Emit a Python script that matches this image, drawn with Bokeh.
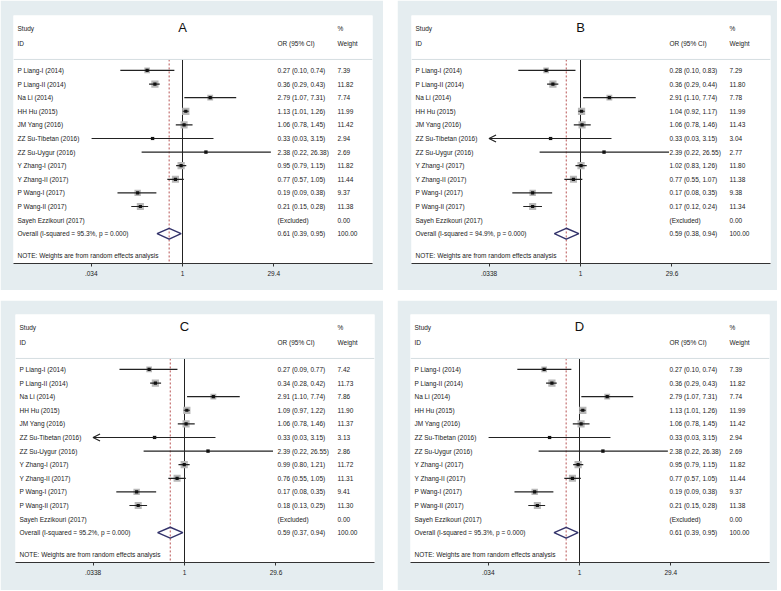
import math
from bokeh.plotting import figure
from bokeh.models import (Range1d, LinearScale, FixedTicker, CustomJSTickFormatter,
                          Span, Arrow, OpenHead, ColumnDataSource)
from bokeh.layouts import row, column
from bokeh.embed import file_html
from bokeh.resources import INLINE
from bokeh.core.properties import value

# ---------------- data ----------------
studies = ["P Liang-I (2014)", "P Liang-II (2014)", "Na Li (2014)", "HH Hu (2015)",
           "JM Yang (2016)", "ZZ Su-Tibetan (2016)", "ZZ Su-Uygur (2016)",
           "Y Zhang-I (2017)", "Y Zhang-II (2017)", "P Wang-I (2017)", "P Wang-II (2017)"]
excluded_study = "Sayeh Ezzikouri (2017)"

or_A = [0.27, 0.36, 2.79, 1.13, 1.06, 0.33, 2.38, 0.95, 0.77, 0.19, 0.21]
lo_A = [0.10, 0.29, 1.07, 1.01, 0.78, 0.0345, 0.22, 0.79, 0.57, 0.09, 0.15]
hi_A = [0.74, 0.43, 7.31, 1.26, 1.45, 3.15, 26.38, 1.15, 1.05, 0.38, 0.28]
wt_A = [7.39, 11.82, 7.74, 11.99, 11.42, 2.94, 2.69, 11.82, 11.44, 9.37, 11.38]
overall_A = [0.61, 0.39, 0.95]
i2_A = 95.3
ticks_A = [0.034, 1, 29.4]

or_B = [0.28, 0.36, 2.91, 1.04, 1.06, 0.33, 2.39, 1.02, 0.77, 0.17, 0.17]
lo_B = [0.10, 0.29, 1.10, 0.92, 0.78, 0.033, 0.22, 0.83, 0.55, 0.08, 0.12]
hi_B = [0.83, 0.44, 7.74, 1.17, 1.46, 3.15, 26.55, 1.26, 1.07, 0.35, 0.24]
wt_B = [7.29, 11.80, 7.78, 11.99, 11.43, 3.04, 2.77, 11.80, 11.38, 9.38, 11.34]
overall_B = [0.59, 0.38, 0.94]
i2_B = 94.9
ticks_B = [0.0338, 1, 29.6]

or_C = [0.27, 0.34, 2.91, 1.09, 1.06, 0.33, 2.39, 0.99, 0.76, 0.17, 0.18]
lo_C = [0.09, 0.28, 1.10, 0.97, 0.78, 0.033, 0.22, 0.80, 0.55, 0.08, 0.13]
hi_C = [0.77, 0.42, 7.74, 1.22, 1.46, 3.15, 26.55, 1.21, 1.05, 0.35, 0.25]
wt_C = [7.42, 11.73, 7.86, 11.90, 11.37, 3.13, 2.86, 11.72, 11.31, 9.41, 11.30]
overall_C = [0.59, 0.37, 0.94]
i2_C = 95.2
ticks_C = [0.0338, 1, 29.6]

or_D = [0.27, 0.36, 2.79, 1.13, 1.06, 0.33, 2.38, 0.95, 0.77, 0.19, 0.21]
lo_D = [0.10, 0.29, 1.07, 1.01, 0.78, 0.0345, 0.22, 0.79, 0.57, 0.09, 0.15]
hi_D = [0.74, 0.43, 7.31, 1.26, 1.45, 3.15, 26.38, 1.15, 1.05, 0.38, 0.28]
wt_D = [7.39, 11.82, 7.74, 11.99, 11.42, 2.94, 2.69, 11.82, 11.44, 9.37, 11.38]
overall_D = [0.61, 0.39, 0.95]
i2_D = 95.3
ticks_D = [0.034, 1, 29.4]

# ---------------- style ----------------
BG = "#e5edf0"
FONT = value("Liberation Sans")
FS = "6.5px"
TXT = "#222222"
FRAME_W = 359
FRAME_H = 248


def make_panel(letter, ors, los, his, wts, overall, i2, ticks,
               or_x, wt_x, bl, br, bt, bb):
    n = len(studies)
    rows_y = list(range(1, n + 1))
    excl_y = n + 1
    ov_y = n + 2
    y_top, y_bot = -3.04, 15.19
    sep_y = 0.19

    x_start = math.exp(-169 / 27.0)
    x_end = math.exp((FRAME_W - 169) / 27.0)

    p = figure(width=bl + FRAME_W + br, height=bt + FRAME_H + bb,
               x_axis_type="log", x_range=Range1d(x_start, x_end),
               y_range=Range1d(y_bot, y_top), y_axis_location=None,
               toolbar_location=None, output_backend="svg",
               min_border_left=bl, min_border_right=br,
               min_border_top=bt, min_border_bottom=bb,
               border_fill_color=BG, background_fill_color="white",
               outline_line_color=None)
    p.extra_x_ranges = {"txt": Range1d(0, FRAME_W)}
    p.extra_x_scales = {"txt": LinearScale()}
    p.grid.visible = False

    ax = p.xaxis[0]
    ax.ticker = FixedTicker(ticks=ticks, minor_ticks=[])
    ax.formatter = CustomJSTickFormatter(code="""
        if (tick == 1) { return "1"; }
        var s = String(tick);
        return s.indexOf("0.") == 0 ? s.slice(1) : s;
    """)
    ax.axis_line_color = "#333333"
    ax.axis_line_width = 1
    ax.major_tick_line_color = "#333333"
    ax.major_tick_in = 0
    ax.major_tick_out = 3
    ax.minor_tick_line_color = None
    ax.major_label_text_font = "Liberation Sans"
    ax.major_label_text_font_size = FS
    ax.major_label_text_color = TXT
    ax.major_label_standoff = 4

    # header separator
    p.add_layout(Span(location=sep_y, dimension="width", line_color="#d5dde1", line_width=1))

    # reference line at 1 and overall dashed line
    p.segment(x0=[1], x1=[1], y0=[sep_y], y1=[y_bot], line_color="#222222", line_width=1)
    p.segment(x0=[overall[0]], x1=[overall[0]], y0=[sep_y], y1=[y_bot],
              line_color="#b04040", line_width=0.9, line_dash="2 2")

    # CI lines (clip at axis minimum -> arrow)
    tmin = ticks[0]
    seg_lo, seg_y, seg_hi = [], [], []
    for lo, hi, yy in zip(los, his, rows_y):
        if lo < tmin:
            p.add_layout(Arrow(end=OpenHead(size=7, line_width=1.2, line_color="#222222"),
                               x_start=hi, x_end=tmin, y_start=yy, y_end=yy,
                               line_width=1.2, line_color="#222222"))
        else:
            seg_lo.append(lo)
            seg_hi.append(hi)
            seg_y.append(yy)

    src = ColumnDataSource(data=dict(
        est=ors, y=rows_y, size=[2.1 * math.sqrt(w) for w in wts]))
    p.scatter(x="est", y="y", size="size", marker="square", source=src,
              fill_color="#b8b8b8", line_color=None)
    p.segment(x0=seg_lo, x1=seg_hi, y0=seg_y, y1=seg_y, line_color="#222222", line_width=1.2)
    p.scatter(x="est", y="y", size=3.2, marker="square", source=src,
              fill_color="#111111", line_color=None)

    # overall diamond
    est, olo, ohi = overall
    p.patch(x=[olo, est, ohi, est, olo], y=[ov_y, ov_y - 0.4, ov_y, ov_y + 0.4, ov_y],
            fill_color=None, line_color="#33336b", line_width=1.4)

    # title letter
    p.text(x=[1], y=[-2.15], text=[letter], text_font=value("Liberation Sans"),
           text_font_size="13px", text_align="center", text_baseline="middle",
           text_color="#111111")

    # text columns
    lab_txt = list(studies) + [excluded_study,
                               "Overall  (I-squared = %.1f%%, p = 0.000)" % i2]
    or_txt = ["%.2f (%.2f, %.2f)" % (a, b, c) for a, b, c in zip(ors, los, his)]
    or_txt += ["(Excluded)", "%.2f (%.2f, %.2f)" % (est, olo, ohi)]
    wt_txt = ["%.2f" % w for w in wts] + ["%.2f" % 0.0, "%.2f" % 100.0]
    ys = rows_y + [excl_y, ov_y]

    kw = dict(x_range_name="txt", text_font=FONT, text_font_size=FS,
              text_baseline="middle", text_align="left", text_color=TXT)
    p.text(x=[4] * len(ys), y=ys, text=lab_txt, **kw)
    p.text(x=[or_x] * len(ys), y=ys, text=or_txt, **kw)
    p.text(x=[wt_x] * len(ys), y=ys, text=wt_txt, **kw)
    p.text(x=[4, 4, or_x, wt_x, wt_x], y=[-2.09, -0.99, -0.99, -2.09, -0.99],
           text=["Study", "ID", "OR (95% CI)", "%", "Weight"], **kw)
    p.text(x=[4], y=[14.6], text=["NOTE: Weights are from random effects analysis"], **kw)
    return p


pA = make_panel("A", or_A, lo_A, hi_A, wt_A, overall_A, i2_A, ticks_A, 264, 324, 13, 11, 15, 27)
pB = make_panel("B", or_B, lo_B, hi_B, wt_B, overall_B, i2_B, ticks_B, 258, 318, 14, 7, 15, 27)
pC = make_panel("C", or_C, lo_C, hi_C, wt_C, overall_C, i2_C, ticks_C, 262, 322, 15, 9, 14, 28)
pD = make_panel("D", or_D, lo_D, hi_D, wt_D, overall_D, i2_D, ticks_D, 259, 319, 13, 8, 14, 28)

layout = column(row(pA, pB, spacing=14), row(pC, pD, spacing=14), spacing=10)

open("out.html", "w").write(file_html(layout, INLINE))
